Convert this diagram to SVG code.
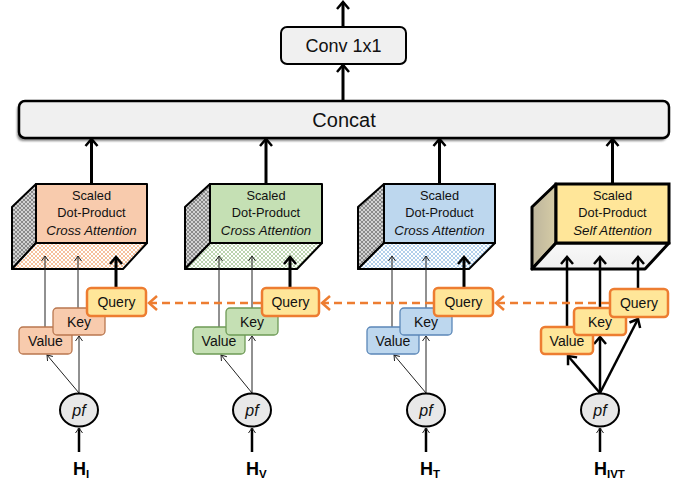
<svg xmlns="http://www.w3.org/2000/svg" width="681" height="483" viewBox="0 0 681 483">
<style>
.t{font-family:"Liberation Sans",Arial,sans-serif;fill:#111;text-anchor:middle}
.bx{font-size:12.8px}
.it{font-style:italic;font-size:13.3px}
.lb{font-size:14px}
.H{font-family:"Liberation Sans",Arial,sans-serif;font-weight:bold;font-size:18px;fill:#000}
.sub{font-size:11.5px}
.edge{stroke:#000;stroke-linejoin:round;stroke-width:2}
.thin{stroke:#222;stroke-width:1;fill:none}
.thick{stroke:#000;stroke-width:3;fill:none}
.mid{stroke:#000;stroke-width:2.5;fill:none}
.dash{stroke:#ED7D31;stroke-width:2.5;stroke-dasharray:8 5;fill:none}
.q{fill:#FFE699;stroke:#ED7D31;stroke-width:2.5}
.pf{fill:#E8E8E8;stroke:#000;stroke-width:2}
</style>
<defs>
<marker id="aT" markerUnits="userSpaceOnUse" orient="auto" overflow="visible" markerWidth="1" markerHeight="1"><path d="M-7,-6 L0,0 L-7,6" fill="none" stroke="#000" stroke-width="2.5"/></marker>
<marker id="aN" markerUnits="userSpaceOnUse" orient="auto" overflow="visible" markerWidth="1" markerHeight="1"><path d="M-5,-3.5 L0,0 L-5,3.5" fill="none" stroke="#222" stroke-width="1"/></marker>
<marker id="aO" markerUnits="userSpaceOnUse" orient="auto" overflow="visible" markerWidth="1" markerHeight="1"><path d="M-8,-7 L0,0 L-8,7" fill="none" stroke="#ED7D31" stroke-width="2.5"/></marker>
<pattern id="pSide" width="4" height="4" patternUnits="userSpaceOnUse"><rect width="4" height="4" fill="#d2d2d2"/><path d="M0,0L4,4M4,0L0,4" stroke="#6a6a6a" stroke-width="0.7"/></pattern>
<pattern id="pO" width="4" height="4" patternUnits="userSpaceOnUse"><rect width="4" height="4" fill="#fff"/><path d="M0,0L4,4M4,0L0,4" stroke="#F4B183" stroke-width="0.8"/></pattern>
<pattern id="pG" width="4" height="4" patternUnits="userSpaceOnUse"><rect width="4" height="4" fill="#fff"/><path d="M0,0L4,4M4,0L0,4" stroke="#A9C99A" stroke-width="0.8"/></pattern>
<pattern id="pB" width="4" height="4" patternUnits="userSpaceOnUse"><rect width="4" height="4" fill="#fff"/><path d="M0,0L4,4M4,0L0,4" stroke="#9DC3E6" stroke-width="0.8"/></pattern>
<linearGradient id="gS" x1="0" y1="0" x2="1" y2="0"><stop offset="0" stop-color="#bdb59c"/><stop offset="1" stop-color="#d6cca6"/></linearGradient>
<linearGradient id="gB" x1="0" y1="0" x2="0" y2="1"><stop offset="0" stop-color="#f9f9f9"/><stop offset="1" stop-color="#efefef"/></linearGradient>
<filter id="sh" x="-5%" y="-30%" width="110%" height="160%"><feGaussianBlur stdDeviation="1.2"/></filter>
</defs>

<g id="conv">
<rect x="281" y="27" width="125" height="37" rx="6" fill="#F0F0F0" stroke="#000" stroke-width="2"/>
<text class="t" x="343.5" y="52" font-size="18">Conv 1x1</text>
</g>

<g id="concat">
<rect x="17" y="104" width="650" height="37" rx="6" fill="#888" filter="url(#sh)"/>
<rect x="19" y="101" width="650" height="37" rx="6" fill="#F0F0F0" stroke="#000" stroke-width="2.5"/>
<text class="t" x="344" y="127" font-size="20">Concat</text>
</g>

<g id="att1">
<polygon points="36,184 12,207 12,269 36,243" fill="url(#pSide)" class="edge"/>
<polygon points="36,243 147,243 123,269 12,269" fill="url(#pO)" class="edge"/>
<rect x="36" y="184" width="111" height="59" fill="#F8CBAD" class="edge"/>
<text class="t bx" x="91.5" y="200">Scaled</text>
<text class="t bx" x="91.5" y="217">Dot-Product</text>
<text class="t it" x="91.5" y="235">Cross Attention</text>
</g>
<g id="att2">
<polygon points="210,184 185,207 185,269 210,243" fill="url(#pSide)" class="edge"/>
<polygon points="210,243 322,243 297,269 185,269" fill="url(#pG)" class="edge"/>
<rect x="210" y="184" width="112" height="59" fill="#C5E0B4" class="edge"/>
<text class="t bx" x="266" y="200">Scaled</text>
<text class="t bx" x="266" y="217">Dot-Product</text>
<text class="t it" x="266" y="235">Cross Attention</text>
</g>
<g id="att3">
<polygon points="384,184 358,207 358,269 384,243" fill="url(#pSide)" class="edge"/>
<polygon points="384,243 495,243 469,269 358,269" fill="url(#pB)" class="edge"/>
<rect x="384" y="184" width="111" height="59" fill="#BDD7EE" class="edge"/>
<text class="t bx" x="439.5" y="200">Scaled</text>
<text class="t bx" x="439.5" y="217">Dot-Product</text>
<text class="t it" x="439.5" y="235">Cross Attention</text>
</g>
<g id="att4">
<polygon points="556,184 532,207 532,269 556,243" fill="url(#gS)" stroke="#000" stroke-width="3" stroke-linejoin="round"/>
<polygon points="556,243 669,243 645,269 532,269" fill="url(#gB)" stroke="#000" stroke-width="3" stroke-linejoin="round"/>
<rect x="556" y="184" width="113" height="59" fill="#FFE699" stroke="#000" stroke-width="3"/>
<text class="t bx" x="612.5" y="200">Scaled</text>
<text class="t bx" x="612.5" y="217">Dot-Product</text>
<text class="t it" x="612.5" y="235">Self Attention</text>
</g>

<g id="connectors">
<line class="thick" x1="343" y1="27" x2="343" y2="2" marker-end="url(#aT)"/>
<line class="thick" x1="343" y1="101" x2="343" y2="65" marker-end="url(#aT)"/>
<line class="thick" x1="91.5" y1="184" x2="91.5" y2="139" marker-end="url(#aT)"/>
<line class="thick" x1="266" y1="184" x2="266" y2="139" marker-end="url(#aT)"/>
<line class="thick" x1="439.5" y1="184" x2="439.5" y2="139" marker-end="url(#aT)"/>
<line class="thick" x1="612.5" y1="184" x2="612.5" y2="139" marker-end="url(#aT)"/>

<line class="thin" x1="45" y1="327" x2="45" y2="256" marker-end="url(#aN)"/>
<line class="thin" x1="78" y1="308" x2="78" y2="256" marker-end="url(#aN)"/>
<line class="thick" x1="116" y1="288" x2="116" y2="257" marker-end="url(#aT)"/>
<line class="thin" x1="219" y1="327" x2="219" y2="256" marker-end="url(#aN)"/>
<line class="thin" x1="252" y1="308" x2="252" y2="256" marker-end="url(#aN)"/>
<line class="thick" x1="290" y1="288" x2="290" y2="257" marker-end="url(#aT)"/>
<line class="thin" x1="392" y1="327" x2="392" y2="256" marker-end="url(#aN)"/>
<line class="thin" x1="426" y1="308" x2="426" y2="256" marker-end="url(#aN)"/>
<line class="thick" x1="464" y1="288" x2="464" y2="257" marker-end="url(#aT)"/>
<line class="mid" x1="567" y1="327" x2="567" y2="257" marker-end="url(#aT)"/>
<line class="mid" x1="600" y1="308" x2="600" y2="257" marker-end="url(#aT)"/>
<line class="mid" x1="638" y1="289" x2="638" y2="257" marker-end="url(#aT)"/>

<line class="dash" x1="609" y1="303" x2="496" y2="303" marker-end="url(#aO)"/>
<line class="dash" x1="433" y1="303" x2="322" y2="303" marker-end="url(#aO)"/>
<line class="dash" x1="261" y1="303" x2="149" y2="303" marker-end="url(#aO)"/>

<line class="thin" x1="79" y1="393" x2="79" y2="336" marker-end="url(#aN)"/>
<line class="thin" x1="79" y1="393" x2="47" y2="355" marker-end="url(#aN)"/>
<line class="thin" x1="252" y1="393" x2="252" y2="336" marker-end="url(#aN)"/>
<line class="thin" x1="252" y1="393" x2="221" y2="355" marker-end="url(#aN)"/>
<line class="thin" x1="426" y1="393" x2="426" y2="336" marker-end="url(#aN)"/>
<line class="thin" x1="426" y1="393" x2="394" y2="355" marker-end="url(#aN)"/>
<line class="mid" x1="600" y1="393" x2="600" y2="337" marker-end="url(#aT)"/>
<line class="mid" x1="600" y1="393" x2="568" y2="356" marker-end="url(#aT)"/>
<line class="mid" x1="600" y1="393" x2="638" y2="319" marker-end="url(#aT)"/>

<line class="mid" x1="79" y1="452" x2="79" y2="428" marker-end="url(#aN)"/>
<line class="mid" x1="252" y1="452" x2="252" y2="428" marker-end="url(#aN)"/>
<line class="mid" x1="426" y1="452" x2="426" y2="428" marker-end="url(#aN)"/>
<line class="mid" x1="600" y1="452" x2="600" y2="428" marker-end="url(#aN)"/>
</g>

<g id="v1"><rect x="19" y="327" width="53" height="27" rx="4" fill="#F8CBAD" stroke="#B9774F" stroke-width="1.3"/><text class="t lb" x="45.5" y="345.5">Value</text></g>
<g id="k1"><rect x="53" y="308" width="52" height="27" rx="4" fill="#F8CBAD" stroke="#B9774F" stroke-width="1.3"/><text class="t lb" x="79" y="326.5">Key</text></g>
<g id="q1"><rect x="87" y="288" width="59" height="28" rx="4" class="q"/><text class="t lb" x="116.5" y="307">Query</text></g>

<g id="v2"><rect x="193" y="327" width="52" height="27" rx="4" fill="#C5E0B4" stroke="#6E9A56" stroke-width="1.3"/><text class="t lb" x="219" y="345.5">Value</text></g>
<g id="k2"><rect x="226" y="308" width="52" height="27" rx="4" fill="#C5E0B4" stroke="#6E9A56" stroke-width="1.3"/><text class="t lb" x="252" y="326.5">Key</text></g>
<g id="q2"><rect x="262" y="288" width="57" height="28" rx="4" class="q"/><text class="t lb" x="290.5" y="307">Query</text></g>

<g id="v3"><rect x="367" y="327" width="52" height="27" rx="4" fill="#BDD7EE" stroke="#5B87B8" stroke-width="1.3"/><text class="t lb" x="393" y="345.5">Value</text></g>
<g id="k3"><rect x="400" y="308" width="52" height="27" rx="4" fill="#BDD7EE" stroke="#5B87B8" stroke-width="1.3"/><text class="t lb" x="426" y="326.5">Key</text></g>
<g id="q3"><rect x="434" y="288" width="59" height="28" rx="4" class="q"/><text class="t lb" x="463.5" y="307">Query</text></g>

<g id="v4"><rect x="541" y="327" width="52" height="27" rx="4" class="q"/><text class="t lb" x="567" y="345.5">Value</text></g>
<g id="k4"><rect x="574" y="308" width="52" height="27" rx="4" class="q"/><text class="t lb" x="600" y="326.5">Key</text></g>
<g id="q4"><rect x="610" y="289" width="58" height="28" rx="4" class="q"/><text class="t lb" x="639" y="307.5">Query</text></g>

<g id="pf1"><ellipse cx="79" cy="410" rx="19" ry="16.5" class="pf"/><text class="t" x="79" y="415.5" font-size="16" font-style="italic">pf</text></g>
<g id="pf2"><ellipse cx="252" cy="410" rx="19" ry="16.5" class="pf"/><text class="t" x="252" y="415.5" font-size="16" font-style="italic">pf</text></g>
<g id="pf3"><ellipse cx="426" cy="410" rx="19" ry="16.5" class="pf"/><text class="t" x="426" y="415.5" font-size="16" font-style="italic">pf</text></g>
<g id="pf4"><ellipse cx="600" cy="410" rx="19" ry="16.5" class="pf"/><text class="t" x="600" y="415.5" font-size="16" font-style="italic">pf</text></g>

<g id="h1"><text class="H" x="73" y="475">H<tspan class="sub" dy="3">I</tspan></text></g>
<g id="h2"><text class="H" x="246" y="475">H<tspan class="sub" dy="3">V</tspan></text></g>
<g id="h3"><text class="H" x="420" y="475">H<tspan class="sub" dy="3">T</tspan></text></g>
<g id="h4"><text class="H" x="594" y="475">H<tspan class="sub" dy="3">IVT</tspan></text></g>
</svg>
